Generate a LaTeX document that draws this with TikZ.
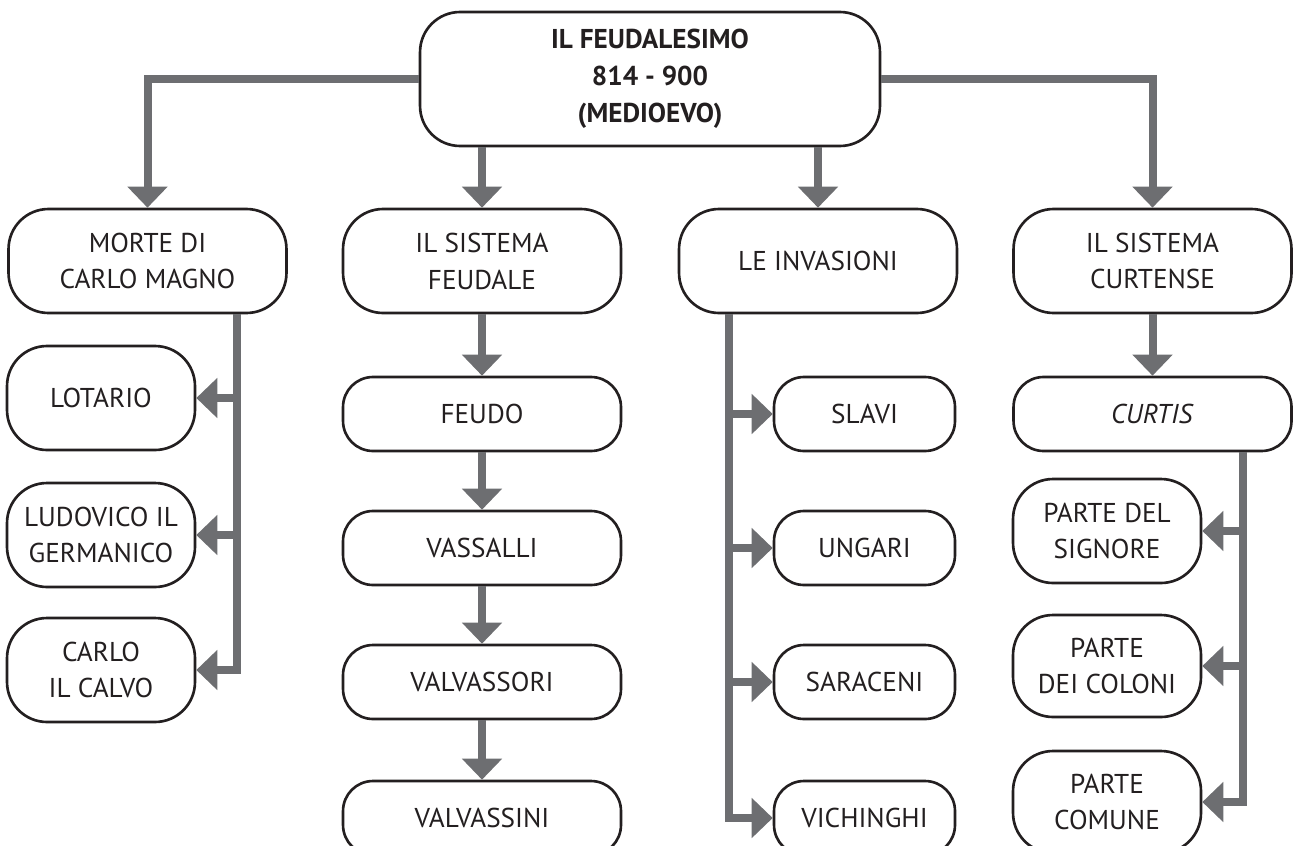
\documentclass[tikz,border=0pt]{standalone}
\usepackage{fontspec}
\setmainfont{PT Sans}
\usetikzlibrary{arrows.meta}
\definecolor{linkgray}{HTML}{6D6E71}
\definecolor{inkdark}{HTML}{231F20}

\begin{document}
\begin{tikzpicture}[x=0.02cm, y=-0.02cm,
    box/.style={draw=inkdark, line width=1.5pt, fill=white, text=inkdark, align=center,
        inner sep=0pt, rounded corners=0.8cm, font=\fontsize{15.5}{21}\selectfont},
    wide/.style={box, minimum width=5.56cm, minimum height=2.08cm},
    flat/.style={box, minimum width=5.56cm, minimum height=1.48cm, rounded corners=0.6cm},
    leaf/.style={box, minimum width=3.76cm, minimum height=2.08cm},
    tag/.style={box, minimum width=3.62cm, minimum height=1.48cm, rounded corners=0.6cm},
    link/.style={draw=linkgray, line width=0.16cm, line join=miter,
        -{Triangle[length=0.42cm, width=0.78cm]}},
    trunk/.style={draw=linkgray, line width=0.16cm}]
    \useasboundingbox (0,0) rectangle (1293,845);

    % Draw the title box
    \node[box, minimum width=9.2cm, minimum height=2.68cm, font=\fontsize{15.5}{21}\selectfont\bfseries]
        (feud) at (650,79) {IL FEUDALESIMO\\814 - 900\\(MEDIOEVO)};

    % Place the four main topics
    \node[wide] (morte) at (147.5,261) {MORTE DI\\CARLO MAGNO};
    \node[wide] (sist) at (482,261) {IL SISTEMA\\FEUDALE};
    \node[wide] (inv) at (818,261) {LE INVASIONI};
    \node[wide] (curt) at (1152.5,261) {IL SISTEMA\\CURTENSE};

    % Sons of Carlo Magno
    \node[leaf] (lotario) at (101,398) {LOTARIO};
    \node[leaf] (ludovico) at (101,535) {LUDOVICO IL\\GERMANICO};
    \node[leaf] (calvo) at (101,670) {CARLO\\IL CALVO};

    % Feudal chain
    \node[flat] (feudo) at (482,414) {FEUDO};
    \node[flat] (vassalli) at (482,548) {VASSALLI};
    \node[flat] (valvassori) at (482,682) {VALVASSORI};
    \node[flat] (valvassini) at (482,818) {VALVASSINI};

    % Invaders
    \node[tag] (slavi) at (864.5,414) {SLAVI};
    \node[tag] (ungari) at (864.5,548) {UNGARI};
    \node[tag] (saraceni) at (864.5,682) {SARACENI};
    \node[tag] (vichinghi) at (864.5,818) {VICHINGHI};

    % Parts of the curtis
    \node[flat] (curtis) at (1152.5,414) {\textit{CURTIS}};
    \node[leaf] (signore) at (1107,531) {PARTE DEL\\SIGNORE};
    \node[leaf, minimum height=2.04cm] (coloni) at (1107,666) {PARTE\\DEI COLONI};
    \node[leaf, minimum height=2.04cm] (comune) at (1107,802) {PARTE\\COMUNE};

    % Trunk lines of the three lists
    \coordinate (trunkA) at (237,0);
    \coordinate (trunkB) at (729,0);
    \coordinate (trunkC) at (1243,0);

    % Connect the title to the topics
    \draw[link] (feud.west) -| (morte.north);
    \draw[link] (feud.south -| sist.north) -- (sist.north);
    \draw[link] (feud.south -| inv.north) -- (inv.north);
    \draw[link] (feud.east) -| (curt.north);

    % Connect the lists
    \draw[link] (trunkA |- morte.south) -- (trunkA |- calvo.east) -- (calvo.east);
    \draw[link] (trunkA |- lotario.east) -- (lotario.east);
    \draw[link] (trunkA |- ludovico.east) -- (ludovico.east);

    \draw[link] (sist) -- (feudo);
    \draw[link] (feudo) -- (vassalli);
    \draw[link] (vassalli) -- (valvassori);
    \draw[link] (valvassori) -- (valvassini);

    \draw[link] (trunkB |- inv.south) -- (trunkB |- vichinghi.west) -- (vichinghi.west);
    \draw[link] (trunkB |- slavi.west) -- (slavi.west);
    \draw[link] (trunkB |- ungari.west) -- (ungari.west);
    \draw[link] (trunkB |- saraceni.west) -- (saraceni.west);

    \draw[link] (curt) -- (curtis);
    \draw[link] (trunkC |- curtis.south) -- (trunkC |- comune.east) -- (comune.east);
    \draw[link] (trunkC |- signore.east) -- (signore.east);
    \draw[link] (trunkC |- coloni.east) -- (coloni.east);
\end{tikzpicture}
\end{document}
